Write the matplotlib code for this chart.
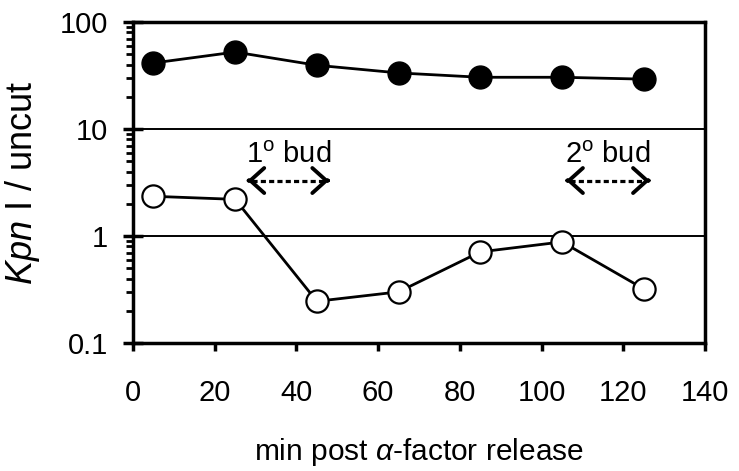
import matplotlib
matplotlib.use("Agg")
import matplotlib.pyplot as plt
from matplotlib.ticker import LogLocator, NullFormatter

plt.rcParams['font.family'] = ['Liberation Sans', 'DejaVu Sans']
plt.rcParams['mathtext.fontset'] = 'custom'
plt.rcParams['mathtext.rm'] = 'Liberation Sans'
plt.rcParams['mathtext.it'] = 'Liberation Sans:italic'

minutes = [5, 25, 45, 65, 85, 105, 125]
uncut_filled = [41.5, 52.5, 39.5, 33.5, 30.5, 30.5, 29.3]
uncut_open = [2.35, 2.2, 0.245, 0.30, 0.71, 0.88, 0.32]
bud_labels = ["1$^{\\rm o}$ bud", "2$^{\\rm o}$ bud"]
bud_spans = [(28, 48), (106, 126.5)]
arrow_y = 3.3
label_y = 4.8

fig = plt.figure(figsize=(7.39, 4.71), dpi=100)
ax = fig.add_axes([0.18, 0.272, 0.774, 0.681])

ax.set_yscale('log')
ax.set_ylim(0.1, 100)
ax.set_xlim(0, 140)

for y in [1, 10]:
    ax.axhline(y, color='black', lw=1.4, zorder=1)

ax.plot(minutes, uncut_filled, color='black', lw=2.0, marker='o', ms=16.5,
        mfc='black', mec='black', zorder=3)
ax.plot(minutes, uncut_open, color='black', lw=2.0, marker='o', ms=16,
        mfc='white', mec='black', mew=1.6, zorder=3)

for lab, (x0, x1) in zip(bud_labels, bud_spans):
    xm = (x0 + x1) / 2
    ax.plot([x0 + 1.0, x1 - 1.0], [arrow_y, arrow_y], color='black', lw=2.3,
            dashes=(1.6, 1.0), zorder=2)
    for xa, xb in [(x0, x0 + 0.4), (x1, x1 - 0.4)]:
        ax.annotate('', xy=(xa, arrow_y), xytext=(xb, arrow_y),
                    arrowprops=dict(arrowstyle='->,head_length=0.5,head_width=0.45',
                                    color='black', lw=2.8,
                                    mutation_scale=20, shrinkA=0, shrinkB=0),
                    zorder=2)
    ax.text(xm, label_y, lab, ha='center', va='baseline', fontsize=21)

for s in ax.spines.values():
    s.set_linewidth(2.5)

ax.set_xticks(range(0, 141, 20))
ax.set_yticks([0.1, 1, 10, 100])
ax.set_yticklabels(['0.1', '1', '10', '100'])
ax.yaxis.set_minor_locator(LogLocator(base=10, subs=range(2, 10)))
ax.yaxis.set_minor_formatter(NullFormatter())
ax.tick_params(axis='x', direction='out', length=6, width=2.5, labelsize=21, pad=20)
ax.tick_params(axis='y', which='major', direction='inout', length=14, width=2.5,
               labelsize=21, pad=11)
ax.tick_params(axis='y', which='minor', direction='out', length=5, width=2)

ax.set_ylabel("$\\it{Kpn}$ I / uncut", fontsize=26)
ax.yaxis.set_label_coords(-0.16, 0.5)
ax.set_xlabel("min post $\\alpha$-factor release", fontsize=21.5)
ax.xaxis.set_label_coords(0.5, -0.29)

fig.savefig('out.png', dpi=100)
